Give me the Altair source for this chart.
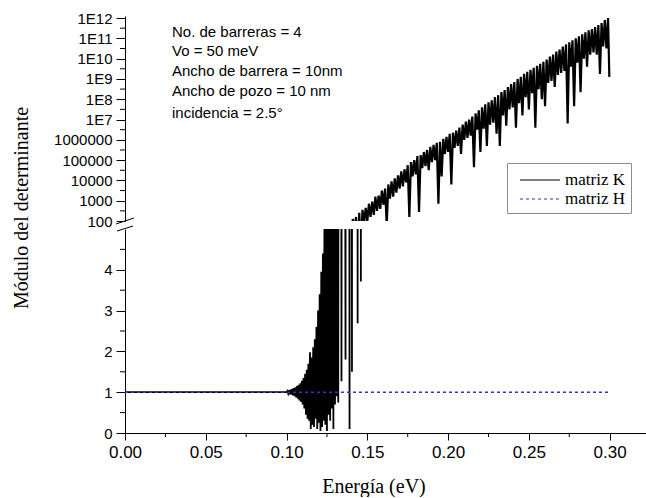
import altair as alt
import pandas as pd

# ---------------- data ----------------
# matriz K, low-energy part (linear |det|)
E_low = [0.0000, 0.1000, 0.1005, 0.1010, 0.1015, 0.1020, 0.1025, 0.1030, 0.1035, 0.1040,
         0.1045, 0.1050, 0.1055, 0.1060, 0.1065, 0.1070, 0.1075, 0.1080, 0.1085, 0.1090,
         0.1095, 0.1100, 0.1105, 0.1110, 0.1115, 0.1120, 0.1125, 0.1130, 0.1135, 0.1140,
         0.1145, 0.1150, 0.1155, 0.1160, 0.1165, 0.1170, 0.1175, 0.1180, 0.1185, 0.1190,
         0.1195, 0.1200, 0.1205, 0.1210, 0.1215, 0.1220, 0.1225, 0.1230, 0.1235, 0.1240,
         0.1245, 0.1250, 0.1255, 0.1260, 0.1265, 0.1270, 0.1275, 0.1280, 0.1285, 0.1290,
         0.1295, 0.1300, 0.1305, 0.1310, 0.1315, 0.1320, 0.1325, 0.1330, 0.1335, 0.1340,
         0.1345, 0.1350, 0.1355, 0.1360, 0.1365, 0.1370, 0.1375, 0.1380, 0.1385, 0.1390,
         0.1395, 0.1400, 0.1405]
K_low = [1.0, 1.0, 1.03, 0.97, 1.05, 0.95, 1.06, 0.94, 1.08, 0.92,
         1.10, 0.90, 1.12, 0.87, 1.15, 0.84, 1.18, 0.80, 1.22, 0.76,
         1.28, 0.70, 1.35, 0.60, 1.45, 0.45, 1.55, 0.35, 1.70, 0.30,
         1.98, 0.10, 1.85, 0.20, 2.10, 0.15, 2.30, 0.35, 2.60, 0.10,
         3.00, 0.25, 3.40, 0.05, 3.95, 0.15, 4.40, 0.30, 5.6, 0.20,
         7.0, 0.05, 9.0, 0.45, 11.0, 0.30, 13.0, 0.60, 15.0, 0.10,
         17.0, 0.70, 19.0, 0.90, 21.0, 0.75, 24.0, 6.0, 26.0, 1.27,
         28.0, 12.0, 32.0, 15.0, 1.80, 36.0, 20.0, 40.0, 25.0, 0.10,
         48.0, 30.0, 1.50]

# matriz K, high-energy band (read as exponents on the log axis)
E_band = [0.141, 0.142, 0.143, 0.144, 0.145, 0.146, 0.147, 0.148, 0.149, 0.150,
          0.151, 0.152, 0.153, 0.154, 0.155, 0.156, 0.157, 0.158, 0.159, 0.160,
          0.161, 0.162, 0.163, 0.164, 0.165, 0.166, 0.167, 0.168, 0.169, 0.170,
          0.171, 0.172, 0.173, 0.174, 0.175, 0.176, 0.177, 0.178, 0.179, 0.180,
          0.181, 0.182, 0.183, 0.184, 0.185, 0.186, 0.187, 0.188, 0.189, 0.190,
          0.191, 0.192, 0.193, 0.194, 0.195, 0.196, 0.197, 0.198, 0.199, 0.200,
          0.201, 0.202, 0.203, 0.204, 0.205, 0.206, 0.207, 0.208, 0.209, 0.210,
          0.211, 0.212, 0.213, 0.214, 0.215, 0.216, 0.217, 0.218, 0.219, 0.220,
          0.221, 0.222, 0.223, 0.224, 0.225, 0.226, 0.227, 0.228, 0.229, 0.230,
          0.231, 0.232, 0.233, 0.234, 0.235, 0.236, 0.237, 0.238, 0.239, 0.240,
          0.241, 0.242, 0.243, 0.244, 0.245, 0.246, 0.247, 0.248, 0.249, 0.250,
          0.251, 0.252, 0.253, 0.254, 0.255, 0.256, 0.257, 0.258, 0.259, 0.260,
          0.261, 0.262, 0.263, 0.264, 0.265, 0.266, 0.267, 0.268, 0.269, 0.270,
          0.271, 0.272, 0.273, 0.274, 0.275, 0.276, 0.277, 0.278, 0.279, 0.280,
          0.281, 0.282, 0.283, 0.284, 0.285, 0.286, 0.287, 0.288, 0.289, 0.290,
          0.291, 0.292, 0.293, 0.294, 0.295, 0.296, 0.297, 0.298, 0.299, 0.2998]
K_band_exp = [2.10, 1.50, 2.20, 0.43, 2.40, 0.57, 2.55, 1.90, 2.65, 2.00,
              2.85, 2.20, 2.95, 2.30, 3.20, 2.50, 3.25, 2.60, 3.50, 2.80,
              3.60, 1.80, 3.80, 3.10, 3.95, 3.20, 4.10, 3.40, 4.25, 3.60,
              4.45, 3.70, 4.55, 3.90, 4.75, 2.20, 4.90, 4.20, 5.00, 4.30,
              5.20, 2.45, 5.25, 4.60, 5.40, 4.70, 5.50, 4.50, 5.65, 4.90,
              5.75, 5.00, 5.85, 2.85, 5.90, 4.20, 6.05, 5.30, 6.15, 5.40,
              6.30, 3.80, 6.35, 5.60, 6.45, 5.70, 6.60, 5.30, 6.75, 6.00,
              6.90, 6.10, 7.00, 6.20, 7.15, 4.65, 7.30, 6.50, 7.45, 5.40,
              7.60, 6.55, 7.75, 5.70, 7.85, 6.75, 7.95, 6.85, 8.10, 6.30,
              8.20, 5.70, 8.35, 7.20, 8.45, 6.70, 8.60, 7.50, 8.75, 7.60,
              8.85, 6.60, 9.00, 7.80, 9.10, 7.20, 9.25, 8.10, 9.35, 7.50,
              9.45, 8.30, 9.55, 6.60, 9.65, 8.50, 9.75, 8.00, 9.85, 7.65,
              9.95, 8.80, 10.10, 8.90, 10.20, 8.60, 10.35, 9.20, 10.45, 9.30,
              10.60, 9.40, 10.70, 6.80, 10.80, 9.60, 10.90, 7.65, 11.00, 9.80,
              11.10, 8.35, 11.20, 10.00, 11.30, 9.60, 11.40, 10.20, 11.45, 10.30,
              11.55, 10.20, 11.65, 9.25, 11.75, 10.60, 11.90, 10.50, 12.00, 9.10]

# matriz H
E_H = [0.0, 0.30]
H_vals = [1.0, 1.0]

series_names = ["matriz K", "matriz H"]
x_major = [0.00, 0.05, 0.10, 0.15, 0.20, 0.25, 0.30]
x_minor = [0.025, 0.075, 0.125, 0.175, 0.225, 0.275]
y_lin_major = [0, 1, 2, 3, 4]
y_lin_minor = [0.5, 1.5, 2.5, 3.5, 4.5]
y_log_major = [1e2, 1e3, 1e4, 1e5, 1e6, 1e7, 1e8, 1e9, 1e10, 1e11, 1e12]
y_log_minor = [3.16e2, 3.16e3, 3.16e4, 3.16e5, 3.16e6, 3.16e7, 3.16e8, 3.16e9, 3.16e10, 3.16e11]
info_lines = ["No. de barreras = 4", "Vo = 50 meV", "Ancho de barrera = 10nm",
              "Ancho de pozo = 10 nm", "incidencia = 2.5°"]
x_title = "Energía (eV)"
y_title = "Módulo del determinante"

# ---------------- tables ----------------
dfK = pd.DataFrame({
    "E": E_low + E_band,
    "K": K_low + [10 ** p for p in K_band_exp],
    "serie": series_names[0],
})
dfH = pd.DataFrame({"E": E_H, "K": H_vals, "serie": series_names[1]})
dummy = pd.DataFrame({"d": [0]})

W, HT, HB = 521, 205, 204
SANS = "Liberation Sans"
SERIF = "Liberation Serif"
BLUE = "#3535c8"

xs = alt.Scale(domain=[0, 0.3225], nice=False, zero=False)
ys_top = alt.Scale(type="log", domain=[1e2, 1.26e12], nice=False)
ys_bot = alt.Scale(domain=[0, 5], nice=False, zero=False)

# ---------------- top panel (log) ----------------
legend = alt.Legend(title=None, orient="none", legendX=382, legendY=147, strokeColor="#8c8c8c",
                    fillColor="white", padding=6, labelFont=SERIF, labelFontSize=17,
                    labelColor="black", symbolType="M-2,0H2", symbolSize=400,
                    symbolStrokeWidth=1.2, symbolOffset=16, rowPadding=0, labelOffset=14)

k_top = alt.Chart(dfK).mark_line(strokeWidth=2.2, clip=True).encode(
    x=alt.X("E:Q", scale=xs, axis=None),
    y=alt.Y("K:Q", scale=ys_top, axis=alt.Axis(
        values=y_log_major, title=None, tickSize=9, labelPadding=4,
        labelFontSize=15, labelOverlap=False, labelFlush=False,
        labelExpr="datum.value >= 1e7 ? '1E' + round(log(datum.value)/LN10) : format(datum.value, 'd')")),
    color=alt.Color("serie:N", scale=alt.Scale(domain=series_names, range=["black", BLUE]),
                    legend=legend),
    strokeDash=alt.StrokeDash("serie:N", scale=alt.Scale(domain=series_names, range=[[1, 0], [3, 3]]),
                              legend=legend),
)

top_minor = alt.Chart(pd.DataFrame({"v": y_log_minor})).mark_rule(color="black").encode(
    y=alt.Y("v:Q", scale=ys_top, title=None),
    x=alt.value(0), x2=alt.value(-5),
)

info_y = [16, 35, 55, 75, 97]
info_layers = [
    alt.Chart(dummy).mark_text(align="left", baseline="middle", font=SANS, fontSize=15,
                               color="black").encode(x=alt.value(47), y=alt.value(yy), text=alt.value(t))
    for t, yy in zip(info_lines, info_y)
]

top = alt.layer(k_top, top_minor, *info_layers).properties(width=W, height=HT)

# ---------------- bottom panel (linear) ----------------
k_bot = alt.Chart(dfK).transform_filter("datum.E <= 0.1475").mark_line(
    strokeWidth=1.8, clip=True, color="black").encode(
    x=alt.X("E:Q", scale=xs, axis=alt.Axis(
        values=x_major, format=".2f", tickSize=7, labelPadding=4, labelFontSize=17,
        labelFlush=False, title=None)),
    y=alt.Y("K:Q", scale=ys_bot, axis=alt.Axis(
        values=y_lin_major, tickSize=9, labelPadding=4, labelFontSize=15, labelFlush=False,
        title=None)),
)

h_bot = alt.Chart(dfH).mark_line(strokeWidth=1.5, color=BLUE, strokeDash=[3, 3], clip=True).encode(
    x=alt.X("E:Q", scale=xs, title=None),
    y=alt.Y("K:Q", scale=ys_bot, title=None),
)

y_minor = alt.Chart(pd.DataFrame({"v": y_lin_minor})).mark_rule(color="black").encode(
    y=alt.Y("v:Q", scale=ys_bot, title=None), x=alt.value(0), x2=alt.value(-5))
x_minor_r = alt.Chart(pd.DataFrame({"v": x_minor})).mark_rule(color="black").encode(
    x=alt.X("v:Q", scale=xs, title=None), y=alt.value(HB), y2=alt.value(HB + 4))

brk1 = alt.Chart(dummy).mark_rule(color="black", strokeWidth=1).encode(
    x=alt.value(-9), y=alt.value(-5), x2=alt.value(9), y2=alt.value(-11))
brk2 = alt.Chart(dummy).mark_rule(color="black", strokeWidth=1).encode(
    x=alt.value(-8), y=alt.value(2), x2=alt.value(8), y2=alt.value(-3))

xt = alt.Chart(dummy).mark_text(font=SERIF, fontSize=20, color="black", align="center",
                                baseline="middle").encode(
    x=alt.value(249), y=alt.value(HB + 54), text=alt.value(x_title))
yt = alt.Chart(dummy).mark_text(font=SERIF, fontSize=20, color="black", align="center",
                                baseline="middle", angle=270).encode(
    x=alt.value(-103), y=alt.value(-21), text=alt.value(y_title))

bottom = alt.layer(k_bot, h_bot, y_minor, x_minor_r, brk1, brk2, xt, yt).properties(width=W, height=HB)

chart = alt.vconcat(top, bottom, spacing=8, bounds="flush").resolve_scale(
    color="independent", strokeDash="independent"
).properties(
    padding={"left": 11, "top": 11, "right": 0, "bottom": 0},
    background="white",
).configure_view(stroke=None).configure_axis(
    domainColor="black", tickColor="black", labelColor="black", labelFont=SANS,
    titleColor="black", grid=False, domainWidth=1, tickWidth=1,
)

chart.save("out.html", embed_options={"renderer": "svg", "actions": False})
